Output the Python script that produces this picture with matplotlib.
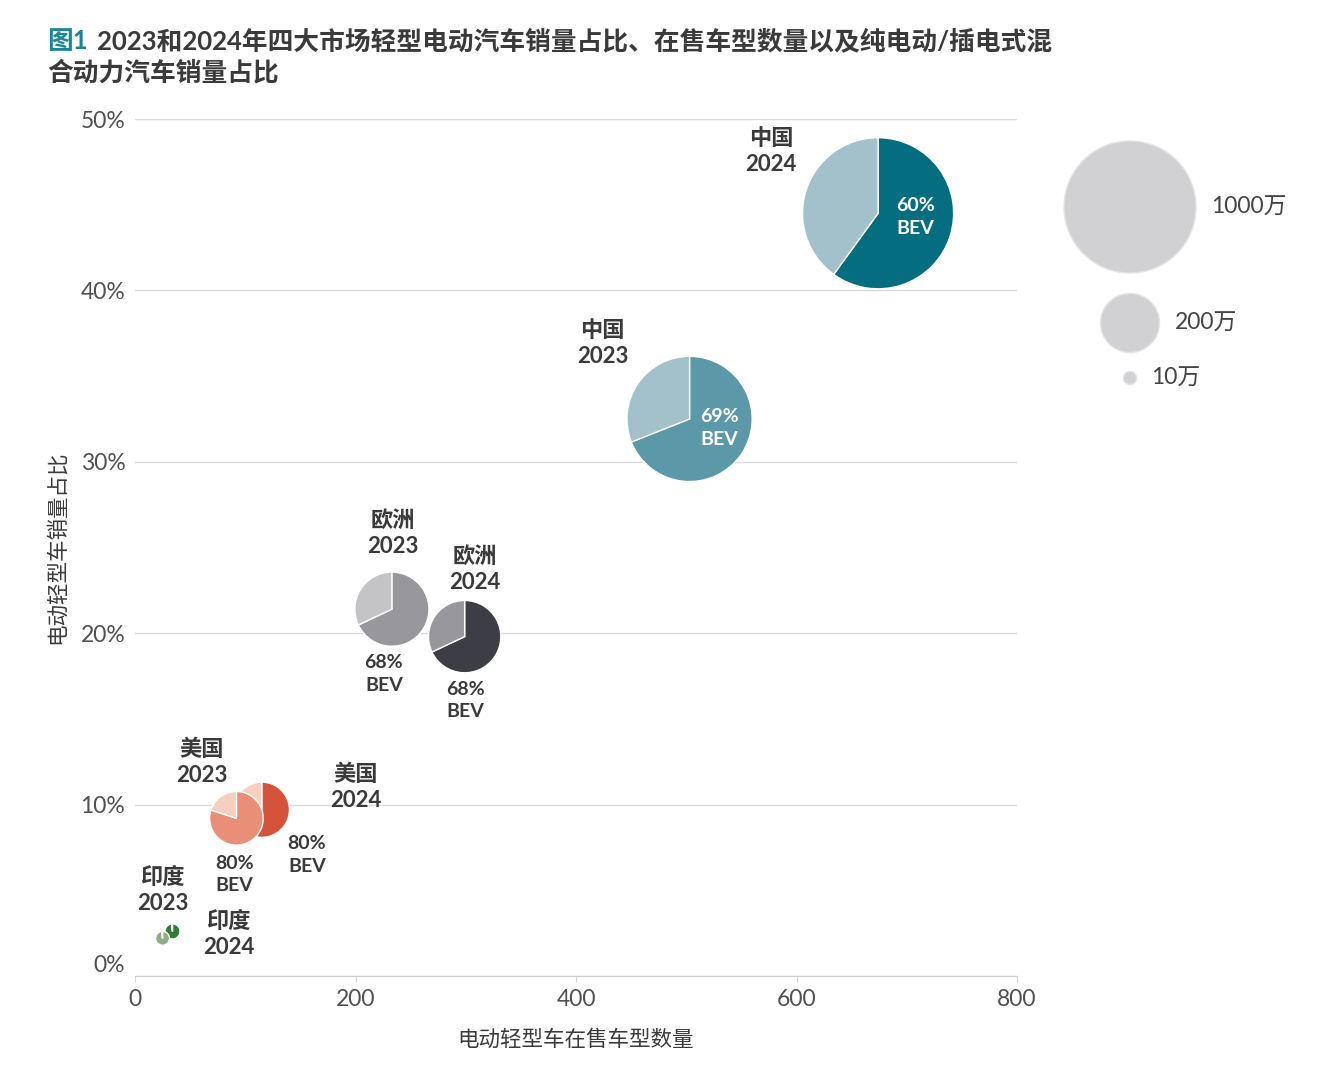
import numpy as np
import matplotlib
matplotlib.use('Agg')
import matplotlib.pyplot as plt
import matplotlib.transforms as mtransforms
from matplotlib.patches import Wedge, Circle

plt.rcParams['font.family'] = ['Lato', 'Noto Sans CJK SC', 'DejaVu Sans']

# data
markets = ['中国', '中国', '欧洲', '欧洲', '美国', '美国', '印度', '印度']
years = ['2024', '2023', '2023', '2024', '2024', '2023', '2024', '2023']
models = [674, 503, 233, 299, 115, 92, 34, 25]          # models on sale
ev_share = [44.5, 32.5, 21.4, 19.8, 9.7, 9.2, 2.6, 2.2]  # EV share of LDV sales (%)
sales = [1310, 900, 315, 300, 175, 165, 13, 11]          # EV sales (万)
bev_share = [60, 69, 68, 68, 80, 80, 98, 98]             # BEV share (%)
show_bev = [True, True, True, True, True, True, False, False]

legend_sizes = [1000, 200, 10]
legend_labels = ['1000万', '200万', '10万']

# styling
bev_colors = ['#046d80', '#5b99a8', '#98979b', '#3d3e45', '#d5533a', '#e98f78', '#2e7d32', '#8fae84']
phev_colors = ['#a3c1cb', '#a3c1cb', '#c4c3c6', '#98979b', '#f6cfbf', '#f6cfbf', '#8fae84', '#c8d8c0']
# label offsets in pixels (dx, dy) relative to bubble centre
name_off = [(-107, 62), (-87, 75), (1, 76), (10, 67), (94, 22), (-35, 56), (56, -3), (0, 48)]
bev_off = [(37, -4), (30, -9), (-8, -65), (1, -64), (45, -45), (-2, -56), (0, 0), (0, 0)]
bev_txt_color = ['white', 'white', '#3a3a3a', '#3a3a3a', '#3a3a3a', '#3a3a3a', '#3a3a3a', '#3a3a3a']

TXT = '#3a3a3a'
R_MAX = 0.66  # inches radius for 1000万


def radius(v):
    return R_MAX * np.sqrt(v / 1000.0)


fig = plt.figure(figsize=(13.43, 10.80), dpi=100)
ax = fig.add_axes([135 / 1343, 1 - 976 / 1080, 882 / 1343, 857 / 1080])
ax.set_xlim(0, 800)
ax.set_ylim(0, 50)
ax.set_xticks([0, 200, 400, 600, 800])
ax.set_yticks([0, 10, 20, 30, 40, 50])
ax.set_yticklabels([f'{v}%' for v in [0, 10, 20, 30, 40, 50]])
for s in ['top', 'right', 'left']:
    ax.spines[s].set_visible(False)
ax.spines['bottom'].set_color('#cfcfcf')
ax.grid(axis='y', color='#dadada', linewidth=1)
ax.set_axisbelow(True)
ax.tick_params(axis='y', length=0, pad=7, labelsize=16.5, labelcolor='#505050')
ax.tick_params(axis='x', length=4, color='#d5d5d5', pad=5, labelsize=16.5, labelcolor='#505050')
# the 0% label sits a little above the axis line
y0 = ax.get_yticklabels()[0]
y0.set_transform(y0.get_transform() + mtransforms.ScaledTranslation(0, 0.13, fig.dpi_scale_trans))

ax.set_xlabel('电动轻型车在售车型数量', fontsize=15.5, color=TXT, labelpad=14, fontweight='medium')
ax.set_ylabel('电动轻型车销量占比', fontsize=15.5, color=TXT, labelpad=10, fontweight='medium')

for i in range(len(markets)):
    x, y = models[i], ev_share[i]
    trans = fig.dpi_scale_trans + mtransforms.ScaledTranslation(x, y, ax.transData)
    r = radius(sales[i])
    s = bev_share[i] / 100.0
    ax.add_patch(Wedge((0, 0), r, 90 - 360 * s, 90, transform=trans, facecolor=bev_colors[i],
                       edgecolor='white', linewidth=1, zorder=3 + i, clip_on=False))
    ax.add_patch(Wedge((0, 0), r, 90, 450 - 360 * s, transform=trans, facecolor=phev_colors[i],
                       edgecolor='white', linewidth=1, zorder=3 + i, clip_on=False))
    ax.annotate(f'{markets[i]}\n{years[i]}', (x, y), xytext=name_off[i], textcoords='offset pixels',
                ha='center', va='center', fontsize=16, fontweight='bold', color=TXT,
                linespacing=1.3, zorder=20)
    if show_bev[i]:
        ax.annotate(f'{bev_share[i]}%\nBEV', (x, y), xytext=bev_off[i], textcoords='offset pixels',
                    ha='center', va='center', fontsize=14, fontweight='bold', color=bev_txt_color[i],
                    linespacing=1.4, zorder=20)

# size legend
leg_y = [207, 323, 378]
for v, lab, py in zip(legend_sizes, legend_labels, leg_y):
    fx, fy = 1130 / 1343, 1 - py / 1080
    trans = fig.dpi_scale_trans + mtransforms.ScaledTranslation(fx, fy, fig.transFigure)
    r = radius(v)
    fig.patches.append(Circle((0, 0), r, transform=trans, facecolor='#d1d0d3', edgecolor='#e4e4e6',
                              linewidth=1))
    fig.text(fx + (r * 100 + 15) / 1343, fy, lab, fontsize=16.5, color='#444444',
             ha='left', va='center')

# title
fig.text(47 / 1343, 1 - 41 / 1080, '图1', fontsize=18.5, fontweight='bold', color='#1a8798',
         va='center', ha='left')
fig.text(97 / 1343, 1 - 41 / 1080, '2023和2024年四大市场轻型电动汽车销量占比、在售车型数量以及纯电动/插电式混',
         fontsize=18.5, fontweight='bold', color=TXT, va='center', ha='left')
fig.text(47 / 1343, 1 - 72 / 1080, '合动力汽车销量占比', fontsize=18.5, fontweight='bold', color=TXT,
         va='center', ha='left')

fig.savefig('out.png', dpi=100)
